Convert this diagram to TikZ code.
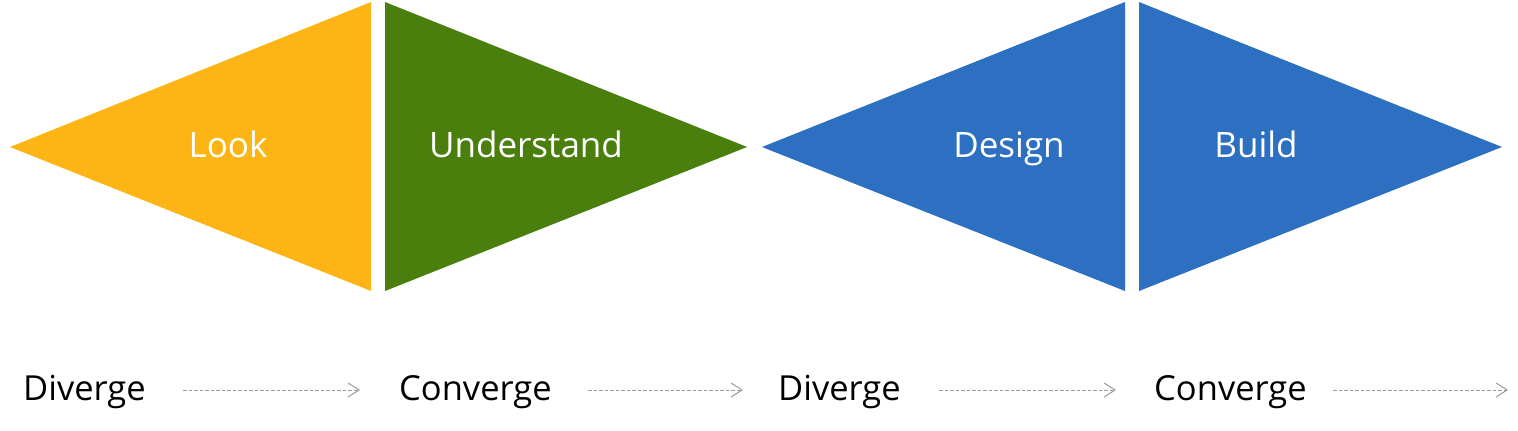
\documentclass[tikz,border=0pt]{standalone}
\usepackage{fontspec}
\setmainfont{Open Sans}
\usetikzlibrary{arrows.meta}
\definecolor{cOrange}{HTML}{FDB515}
\definecolor{cGreen}{HTML}{4A7F0E}
\definecolor{cBlue}{HTML}{2D6FC0}
\definecolor{cGrey}{HTML}{9A9A9A}
\tikzset{
  toplabel/.style={text=white, font=\fontsize{35}{40}\selectfont, inner sep=0pt, anchor=base},
  botlabel/.style={text=black, font=\fontsize{34.5}{40}\selectfont, inner sep=0pt, anchor=base west},
  flow/.style={draw=cGrey, line width=1pt, dash pattern=on 3.5pt off 2pt, -{Straight Barb[length=11pt,width=14pt,line width=1pt]}}
}
\begin{document}
\begin{tikzpicture}[x=1pt,y=-1pt]
\useasboundingbox (0,0) rectangle (1518,431);
% triangles
\fill[cOrange] (10,147) -- (371,2) -- (371,291) -- cycle;
\fill[cGreen] (385,2) -- (747,147) -- (385,291) -- cycle;
\fill[cBlue] (762,147) -- (1125,2) -- (1125,291) -- cycle;
\fill[cBlue] (1139,2) -- (1502,147) -- (1139,291) -- cycle;
% top labels
\node[toplabel] (look) at (228,157) {Look};
\node[toplabel] (understand) at (526,157) {Understand};
\node[toplabel] (design) at (1009,157) {Design};
\node[toplabel] (build) at (1256,157) {Build};
% bottom labels
\node[botlabel] (div1) at (23,400) {Diverge};
\node[botlabel] (con1) at (399,400) {Converge};
\node[botlabel] (div2) at (778,400) {Diverge};
\node[botlabel] (con2) at (1154,400) {Converge};
% arrows
\coordinate (a1s) at (183,390); \coordinate (a1e) at (360,390);
\coordinate (a2s) at (588,390); \coordinate (a2e) at (743,390);
\coordinate (a3s) at (939,390); \coordinate (a3e) at (1116,390);
\coordinate (a4s) at (1333,390); \coordinate (a4e) at (1508,390);
\draw[flow] (a1s) -- (a1e);
\draw[flow] (a2s) -- (a2e);
\draw[flow] (a3s) -- (a3e);
\draw[flow] (a4s) -- (a4e);
\end{tikzpicture}
\end{document}
